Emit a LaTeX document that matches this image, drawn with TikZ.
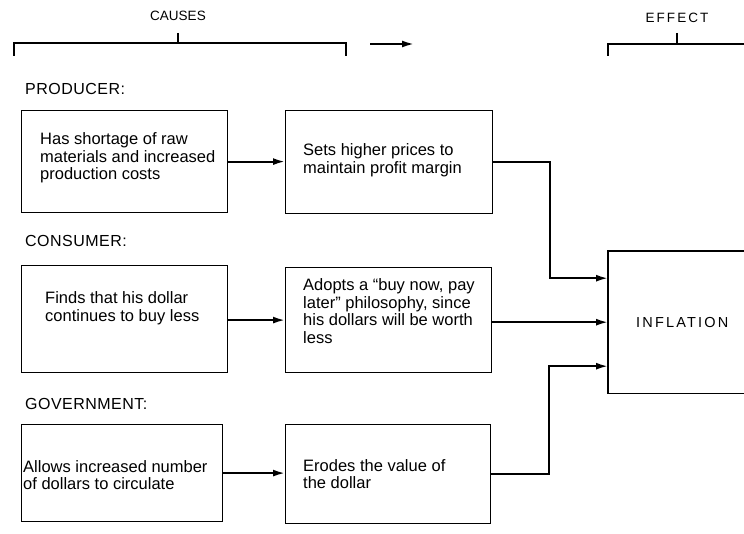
\documentclass[tikz,border=0pt]{standalone}
\usepackage{fontspec}
\setmainfont{Liberation Sans}
\usetikzlibrary{arrows.meta}

\tikzset{
  box/.style={draw, line width=1.2pt, anchor=north west, inner sep=0pt},
  txt/.style={anchor=west, align=left, inner sep=0pt, font=\fontsize{16.5}{17.5}\selectfont},
  lbl/.style={anchor=west, inner sep=0pt, font=\fontsize{16}{18}\selectfont\addfontfeature{LetterSpace=3}},
  head/.style={inner sep=0pt, font=\fontsize{13.5}{15}\selectfont},
  brace/.style={line width=1.3pt},
  flow/.style={line width=2pt, -{Latex[length=12pt,width=7pt]}}
}

\begin{document}
\begin{tikzpicture}[x=1pt,y=-1pt]
\useasboundingbox (0,0) rectangle (744,534);
\clip (0,0) rectangle (744,534);

% headings with their brackets
\node[head] (causes) at (178,16) {CAUSES};
\node[head, font=\fontsize{13.5}{15}\selectfont\addfontfeature{LetterSpace=15}] (effect) at (677,18) {EFFECT};
\coordinate (cl) at (14,56);
\coordinate (cr) at (346,56);
\coordinate (ct) at (178,33);
\draw[brace] (cl) |- (ct |- 0,43) -| (cr);
\draw[brace] (ct) -- (ct |- 0,43);
\coordinate (el) at (608,56);
\coordinate (er) at (750,44);
\coordinate (et) at (677,33);
\draw[brace] (el) |- (er);
\draw[brace] (et) -- (et |- er);
\coordinate (ha) at (370,44);
\coordinate (hb) at (414,44);
\draw[flow] (ha) -- (hb);

% group labels
\node[lbl] (lprod) at (25,89) {PRODUCER:};
\node[lbl] (lcons) at (25,241) {CONSUMER:};
\node[lbl] (lgov) at (25,404) {GOVERNMENT:};

% boxes
\node[box, minimum width=206pt, minimum height=102pt] (b1) at (21,110) {};
\node[box, minimum width=207pt, minimum height=103pt] (b2) at (285,110) {};
\node[box, minimum width=206pt, minimum height=107pt] (b3) at (21,265) {};
\node[box, minimum width=206pt, minimum height=105pt] (b4) at (285,267) {};
\node[box, minimum width=201pt, minimum height=97pt] (b5) at (21,424) {};
\node[box, minimum width=205pt, minimum height=99pt] (b6) at (285,424) {};

% box texts
\node[txt] (t1) at (40,158) {Has shortage of raw\\materials and increased\\production costs};
\node[txt] (t2) at (303,160) {Sets higher prices to\\maintain profit margin};
\node[txt] (t3) at (45,308) {Finds that his dollar\\continues to buy less};
\node[txt] (t4) at (303,311) {Adopts a “buy now, pay\\later” philosophy, since\\his dollars will be worth\\less};
\node[txt] (t5) at (23,475) {Allows increased number\\of dollars to circulate};
\node[txt] (t6) at (303,474) {Erodes the value of\\the dollar};

% effect box, open towards the right edge
\node[inner sep=0pt, anchor=north west, minimum width=148pt, minimum height=142pt,
      font=\fontsize{14.5}{17}\selectfont\addfontfeature{LetterSpace=15}] (infl) at (608,251) {INFLATION};
\draw[line width=1.2pt] (infl.north east) -- (infl.north west) -- (infl.south west) -- (infl.south east);

% connectors
\draw[flow] (b1.east) -- (b1.east -| b2.west);
\draw[flow] (b3.east |- b4.west) -- (b4.west);
\draw[flow] (b5.east) -- (b5.east -| b6.west);
\draw[flow] (b2.east) -- ++(57,0) |- ([yshift=44pt]infl.west);
\draw[flow] (b4.east |- infl.west) -- (infl.west);
\draw[flow] (b6.east) -- ++(58,0) |- ([yshift=-44pt]infl.west);
\end{tikzpicture}
\end{document}
